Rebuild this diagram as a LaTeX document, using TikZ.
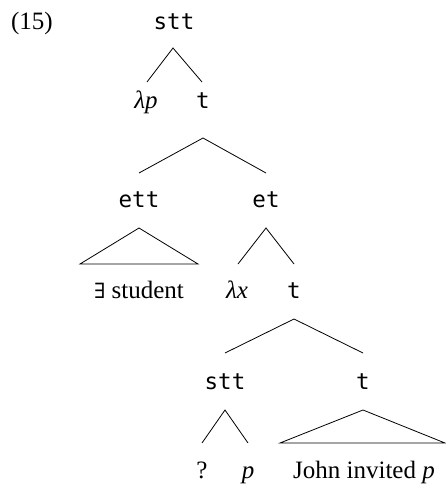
\documentclass[tikz,border=0pt]{standalone}
\usepackage{fontspec}
\setmainfont{Liberation Serif}
\setmonofont{DejaVu Sans Mono}
\newfontfamily\symfont{DejaVu Serif}
\begin{document}
\begin{tikzpicture}[x=1pt,y=-1pt,
  lbl/.style={anchor=base,inner sep=0pt,font=\fontsize{25}{29}\selectfont},
  ty/.style={lbl,font=\fontsize{22.5}{26}\selectfont\ttfamily},
  br/.style={line width=0.8pt,line join=miter}]
\useasboundingbox (0,0) rectangle (446,487);
% labels
\node[lbl] (num) at (32,30) {(15)};
\node[ty] (n1) at (174,30) {stt};
\node[lbl] (lp) at (146,108) {\itshape λp};
\node[ty] (t1) at (203,108) {t};
\node[ty] (ett) at (139,207) {ett};
\node[ty] (et) at (266,207) {et};
\node[lbl] (stud) at (139,298) {{\symfont\fontsize{21}{25}\selectfont ∃} student};
\node[lbl] (lx) at (237,298) {\itshape λx};
\node[ty] (t2) at (294,298) {t};
\node[ty] (stt2) at (225,389) {stt};
\node[ty] (t3) at (363,389) {t};
\node[lbl] (q) at (202,478) {?};
\node[lbl] (p) at (248,478) {\itshape p};
\node[lbl] (john) at (364,478) {John invited \textit{p}};
% branch points
\coordinate (a1) at (173,48);
\coordinate (a1l) at (147,82);
\coordinate (a1r) at (202,82);
\coordinate (a2) at (203,138);
\coordinate (a2l) at (139,173);
\coordinate (a2r) at (266,173);
\coordinate (a3) at (139,228);
\coordinate (a3l) at (80,264);
\coordinate (a3r) at (198,264);
\coordinate (a4) at (266,228);
\coordinate (a4l) at (238,264);
\coordinate (a4r) at (294,264);
\coordinate (a5) at (294,319);
\coordinate (a5l) at (225,353);
\coordinate (a5r) at (363,353);
\coordinate (a6) at (225,410);
\coordinate (a6l) at (202,443);
\coordinate (a6r) at (248,443);
\coordinate (a7) at (363,410);
\coordinate (a7l) at (280,443);
\coordinate (a7r) at (445,443);
% branches
\draw[br] (a1l) -- (a1) -- (a1r);
\draw[br] (a2l) -- (a2) -- (a2r);
\draw[br] (a3) -- (a3l) -- (a3r) -- cycle;
\draw[br] (a4l) -- (a4) -- (a4r);
\draw[br] (a5l) -- (a5) -- (a5r);
\draw[br] (a6l) -- (a6) -- (a6r);
\draw[br] (a7) -- (a7l) -- (a7r) -- cycle;
\end{tikzpicture}
\end{document}
